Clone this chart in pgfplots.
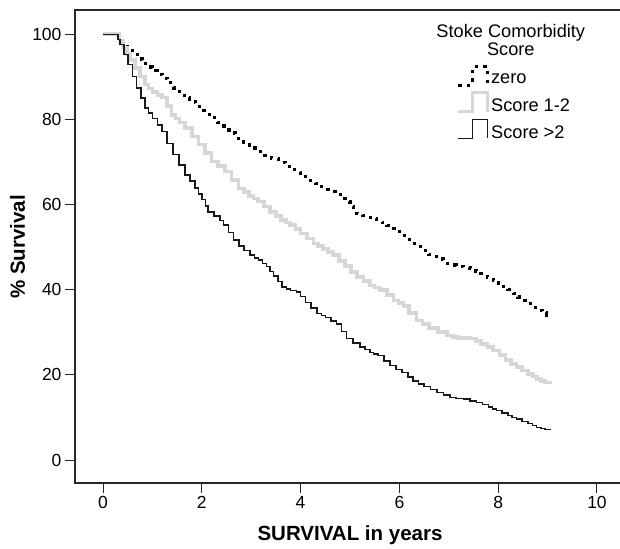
\documentclass[border=0pt]{standalone}
\usepackage{fontspec}
\setmainfont{Liberation Sans}
\usepackage{pgfplots}
\pgfplotsset{compat=1.18}
\definecolor{lgray}{RGB}{214,214,214}
\definecolor{frame}{RGB}{40,40,40}
\begin{document}
\begin{tikzpicture}
\begin{axis}[
  scale only axis, width=545pt, height=473pt,
  xmin=-0.567, xmax=10.466, ymin=-5.4, ymax=105.7,
  axis line style={draw=none},
  xtick={0,2,4,6,8,10}, ytick={0,20,40,60,80,100},
  xtick pos=left, ytick pos=left,
  tick align=outside, major tick length=10pt,
  tick style={frame, line width=1pt},
  tick label style={font=\fontsize{17.5}{19}\selectfont},
  /pgf/number format/assume math mode=true,
  xlabel={\textbf{SURVIVAL in years}},
  ylabel={\textbf{\% Survival}},
  xlabel style={at={(axis description cs:0.5046,-0.1226)}, anchor=base, font=\fontsize{20.5}{22}\selectfont},
  ylabel style={at={(axis description cs:-0.1055,0.499)}, anchor=center, font=\fontsize{20.5}{22}\selectfont},
  clip=false,
  legend cell align=left,
  legend style={draw=none, fill=none, inner sep=0pt, row sep=4pt,
    at={(axis description cs:0.6997,0.885)}, anchor=north west,
    font=\fontsize{18.2}{18.2}\selectfont},
  legend image code/.code={\draw[#1] (0pt,-6pt) -- (14pt,-6pt) -- (14pt,13pt) -- (29pt,13pt) -- (29pt,-6pt);},
]
\addplot[const plot, black, line width=3.2pt, dash pattern=on 3.2pt off 5.6pt] coordinates {
(0,100) (0.25,100) (0.32,99.2) (0.4,98.2) (0.5,96.8) (0.6,95.3) (0.7,94.2) (0.8,93.1) (0.9,92.3)
(1.0,91.4) (1.1,90.6) (1.2,89.7) (1.3,88.6) (1.42,87.4) (1.55,86.1) (1.65,85.1) (1.75,84.1)
(1.87,83.1) (2.0,82.0) (2.1,81.2) (2.2,80.4) (2.32,79.3) (2.45,78.0) (2.55,76.8) (2.67,75.6)
(2.8,74.7) (2.9,74.0) (3.02,73.3) (3.15,72.5) (3.28,71.6) (3.41,70.8) (3.55,69.9) (3.7,69.0)
(3.85,68.2) (3.99,67.4) (4.1,66.5) (4.2,65.6) (4.3,64.9) (4.39,64.2) (4.5,63.6) (4.6,63.0)
(4.7,62.4) (4.8,61.9) (4.9,60.7) (5.0,59.5) (5.07,58.7) (5.14,57.9) (5.25,57.4) (5.35,57.0)
(5.45,56.7) (5.54,56.4) (5.65,55.7) (5.75,55.0) (5.85,54.3) (5.95,53.6) (6.05,52.7) (6.15,51.8)
(6.25,50.9) (6.35,50.1) (6.47,49.2) (6.6,48.2) (6.75,47.2) (6.9,46.2) (7.02,45.8) (7.15,45.5)
(7.3,45.3) (7.43,45.0) (7.55,44.4) (7.65,43.8) (7.78,43.0) (7.9,42.2) (8.0,41.5) (8.1,40.8)
(8.2,40.0) (8.31,39.1) (8.4,38.3) (8.5,37.5) (8.6,36.7) (8.71,35.9) (8.8,35.2) (8.9,34.6)
(8.98,34.0) (9.05,33.5)};
\addlegendentry{zero}
\addplot[const plot, lgray, line width=3.6pt] coordinates {
(0,100) (0.25,100) (0.33,98.5) (0.41,96.9) (0.48,95.4) (0.55,94.0) (0.65,92.1) (0.75,90.1)
(0.85,88.2) (0.92,87.3) (1.0,86.5) (1.1,85.8) (1.19,85.1) (1.29,83.1) (1.39,81.1) (1.47,80.2)
(1.55,79.3) (1.66,78.0) (1.8,76.0) (1.93,74.1) (2.07,72.1) (2.2,70.1) (2.33,69.0) (2.47,67.8)
(2.6,65.8) (2.74,63.8) (2.85,62.9) (2.95,62.0) (3.05,61.4) (3.14,60.7) (3.26,59.5) (3.38,58.3)
(3.5,57.3) (3.6,56.4) (3.7,55.8) (3.79,55.2) (3.9,54.2) (4.0,53.2) (4.13,52.0) (4.26,50.9)
(4.35,50.2) (4.45,49.6) (4.56,48.9) (4.66,48.1) (4.78,46.8) (4.9,45.5) (5.02,44.2) (5.14,43.0)
(5.27,42.0) (5.4,41.0) (5.5,40.5) (5.61,39.9) (5.75,38.7) (5.88,37.5) (5.98,36.9) (6.08,36.2)
(6.2,34.5) (6.35,32.8) (6.47,31.9) (6.6,31.0) (6.78,30.1) (6.96,29.2) (7.08,28.9) (7.2,28.7)
(7.32,28.6) (7.43,28.5) (7.55,27.9) (7.65,27.3) (7.78,26.5) (7.9,25.7) (8.03,24.6) (8.15,23.5)
(8.26,22.6) (8.37,21.8) (8.48,21.0) (8.6,20.2) (8.7,19.6) (8.78,19.0) (8.87,18.6) (8.95,18.2)
(9.05,17.9)};
\addlegendentry{Score 1-2}
\addplot[const plot, black!90, line width=1.5pt] coordinates {
(0,100) (0.25,100) (0.3,98.8) (0.34,97.6) (0.42,95.2) (0.51,92.9) (0.6,90.1) (0.68,87.4)
(0.77,85.0) (0.85,82.7) (0.92,81.5) (1.0,80.2) (1.1,78.7) (1.19,77.2) (1.3,74.4) (1.42,71.7)
(1.54,69.3) (1.66,67.0) (1.76,65.5) (1.86,63.9) (1.93,62.5) (2.0,61.2) (2.07,59.7) (2.13,58.3)
(2.25,57.3) (2.37,56.2) (2.44,55.2) (2.54,53.4) (2.64,51.7) (2.75,50.3) (2.85,49.2) (2.98,48.1)
(3.07,47.5) (3.15,47.0) (3.23,46.2) (3.31,45.4) (3.38,44.3) (3.45,43.2) (3.54,41.9) (3.62,40.6)
(3.71,40.2) (3.8,39.8) (3.92,39.5) (4.0,38.4) (4.1,37.0) (4.21,35.7) (4.33,34.4) (4.42,33.9)
(4.5,33.5) (4.62,32.7) (4.73,32.0) (4.83,30.2) (4.93,28.5) (5.06,27.5) (5.2,26.5) (5.3,25.9)
(5.4,25.3) (5.48,24.9) (5.57,24.5) (5.69,23.3) (5.81,22.2) (5.93,21.3) (6.05,20.5) (6.17,19.5)
(6.28,18.6) (6.39,17.9) (6.5,17.3) (6.63,16.6) (6.76,15.9) (6.89,15.3) (7.02,14.7) (7.15,14.5)
(7.3,14.3) (7.43,13.9) (7.56,13.5) (7.68,13.0) (7.8,12.5) (7.88,12.0) (7.97,11.6) (8.08,11.0)
(8.2,10.5) (8.28,10.0) (8.37,9.6) (8.48,9.1) (8.6,8.6) (8.69,8.1) (8.78,7.6) (8.87,7.4)
(8.95,7.2) (9.05,7.0)};
\addlegendentry{Score >2}
\draw[frame, line width=1.2pt] (rel axis cs:1,1) -- (rel axis cs:0,1) -- (rel axis cs:0,0) -- (rel axis cs:1,0);
\node[anchor=base, font=\fontsize{18.2}{18.2}\selectfont] at (axis cs:8.255,99.2) {Stoke Comorbidity};
\node[anchor=base, font=\fontsize{18.2}{18.2}\selectfont] at (axis cs:8.255,95.1) {Score};
\end{axis}
\pgfresetboundingbox
\path (-75pt,-65pt) rectangle (545pt,483pt);
\end{tikzpicture}
\end{document}
